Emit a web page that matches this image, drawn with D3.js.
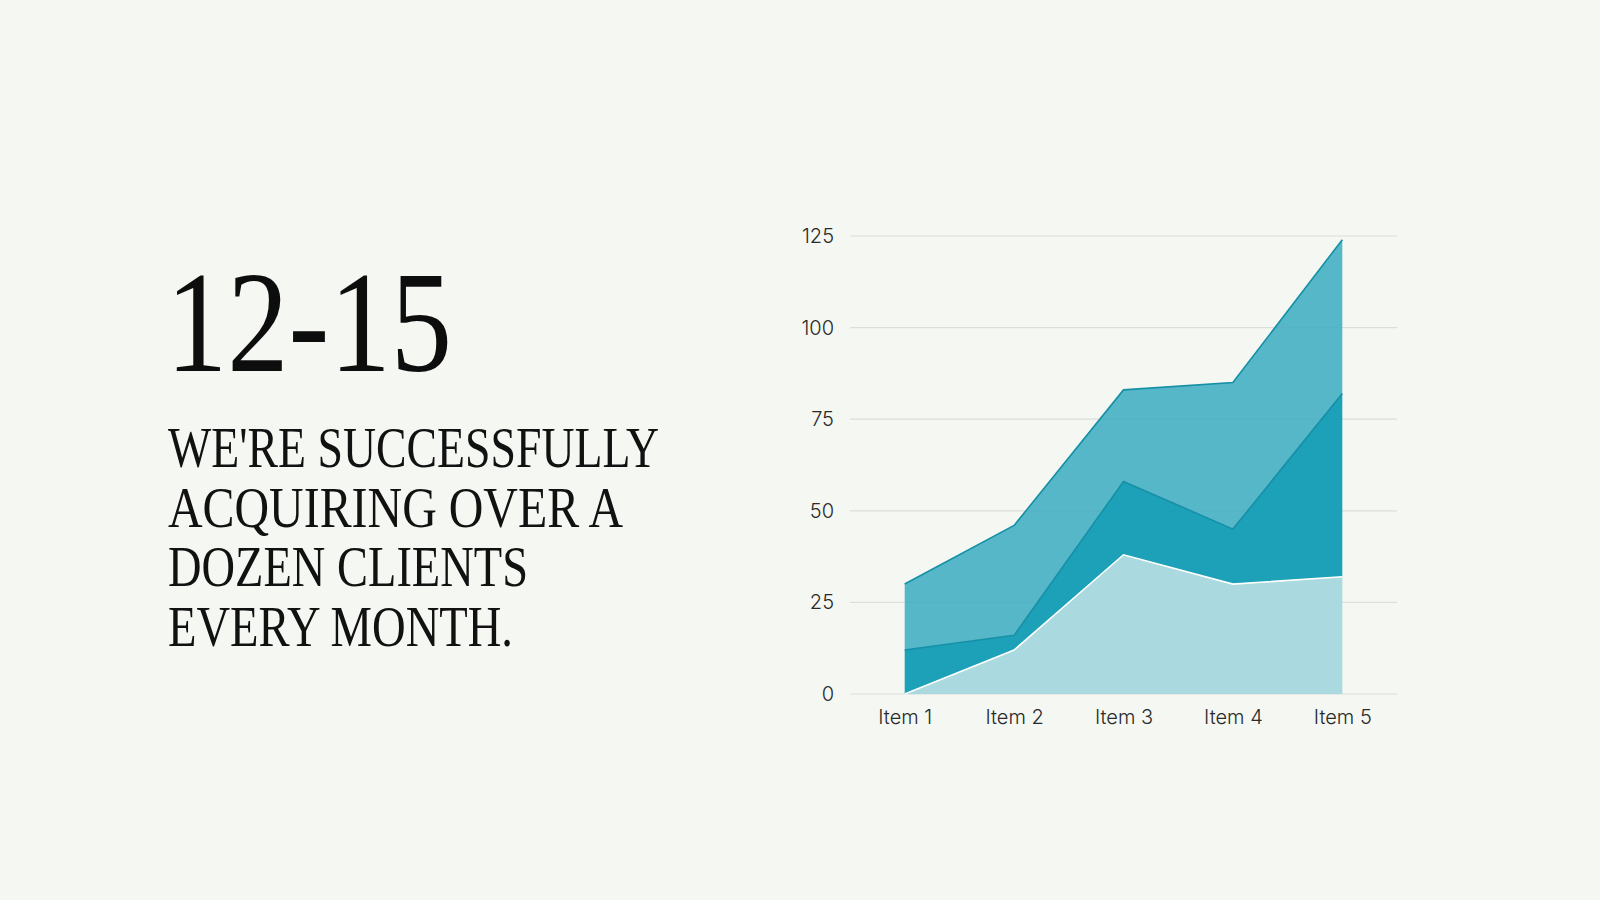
<!DOCTYPE html>
<html>
<head>
<meta charset="utf-8">
<script src="https://cdn.jsdelivr.net/npm/d3@7"></script>
<style>
  html, body { margin:0; padding:0; background:#f5f7f2; }
  svg { display:block; }
</style>
</head>
<body>
<svg width="1600" height="900"></svg>
<script>
// data
var items = ['Item 1','Item 2','Item 3','Item 4','Item 5'];
var seriesA = [0, 12, 38, 30, 32];   // bottom, light
var seriesB = [12, 4, 20, 15, 50];   // middle, dark
var seriesC = [18, 30, 25, 40, 42];  // top, medium
var yTicks = [0, 25, 50, 75, 100, 125];
var headline = '12-15';
var bodyLines = ["WE'RE SUCCESSFULLY", 'ACQUIRING OVER A', 'DOZEN CLIENTS', 'EVERY MONTH.'];

var margin = {top:236, right:203, bottom:206, left:850},
    width = 1600 - margin.left - margin.right,
    height = 900 - margin.top - margin.bottom;

// fills are a bit darker than the look, since they sit at 0.9 over the page
var fills = ['#a2d6dd', '#0697b2', '#45afc3'];
var strokes = ['#ffffff', '#1590a6', '#1590a6'];

var svg = d3.select('svg');

// left text block
svg.append('text')
    .attr('x', 166)
    .attr('y', 371)
    .attr('textLength', 286)
    .attr('lengthAdjust', 'spacingAndGlyphs')
    .style('font-family', '"Liberation Serif", "DejaVu Serif", serif')
    .style('font-size', '144px')
    .style('fill', '#0d0d0d')
    .text(headline);

var lineWidths = [491, 455, 360, 345];
svg.selectAll('.body')
    .data(bodyLines)
    .join('text')
    .attr('class', 'body')
    .attr('x', 168)
    .attr('y', (d, i) => 467 + i * 59.7)
    .attr('textLength', (d, i) => lineWidths[i])
    .attr('lengthAdjust', 'spacingAndGlyphs')
    .style('font-family', '"Liberation Serif", "DejaVu Serif", serif')
    .style('font-size', '56px')
    .style('fill', '#111')
    .text(d => d);

// chart
var g = svg.append('g').attr('transform', 'translate(' + margin.left + ',' + margin.top + ')');

var x = d3.scalePoint().domain(items).range([0, width]).padding(0.5);
var y = d3.scaleLinear().domain([0, 125]).range([height, 0]);

var rows = items.map((d, i) => ({item: d, a: seriesA[i], b: seriesB[i], c: seriesC[i]}));
var stacked = d3.stack().keys(['a', 'b', 'c'])(rows);

// gridlines
g.selectAll('.grid')
    .data(yTicks)
    .join('line')
    .attr('class', 'grid')
    .attr('x1', 0)
    .attr('x2', width)
    .attr('y1', d => y(d))
    .attr('y2', d => y(d))
    .attr('stroke', '#dcdedb')
    .attr('stroke-width', 1.2);

var area = d3.area()
    .x(d => x(d.data.item))
    .y0(d => y(d[0]))
    .y1(d => y(d[1]));

var line = d3.line()
    .x(d => x(d.data.item))
    .y(d => y(d[1]));

g.selectAll('.area')
    .data(stacked)
    .join('path')
    .attr('class', 'area')
    .attr('d', area)
    .attr('fill', (d, i) => fills[i])
    .attr('fill-opacity', 0.9);

g.selectAll('.topline')
    .data(stacked)
    .join('path')
    .attr('class', 'topline')
    .attr('d', line)
    .attr('fill', 'none')
    .attr('stroke', (d, i) => strokes[i])
    .attr('stroke-width', 1.6);

// axes
var yAxis = g.append('g')
    .call(d3.axisLeft(y).tickValues(yTicks).tickSize(0).tickPadding(16));
yAxis.select('.domain').remove();

var xAxis = g.append('g')
    .attr('transform', 'translate(0,' + height + ')')
    .call(d3.axisBottom(x).tickSize(0).tickPadding(16));
xAxis.select('.domain').remove();

g.selectAll('.tick text')
    .style('font-family', 'Inter, "Open Sans", sans-serif')
    .style('font-size', '20px')
    .style('font-weight', 300)
    .style('fill', '#2a2a2a');
</script>
</body>
</html>
